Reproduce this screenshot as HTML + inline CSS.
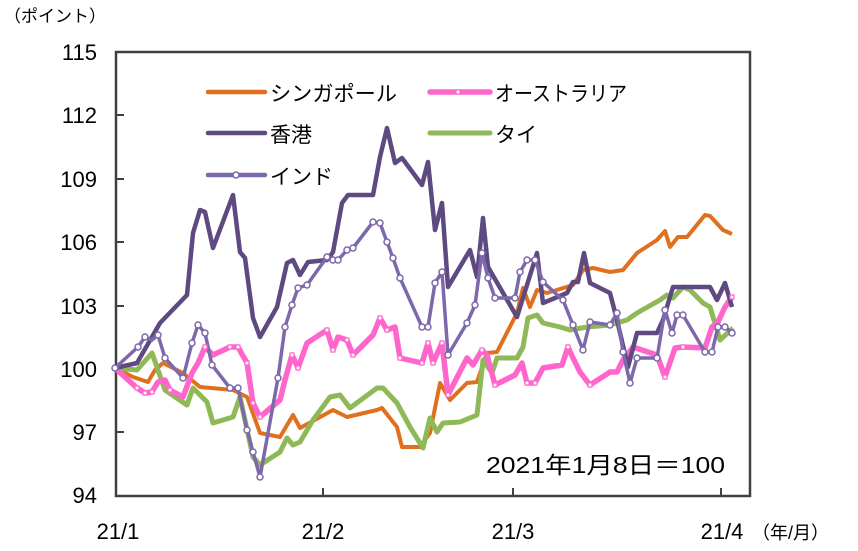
<!DOCTYPE html>
<html><head><meta charset="utf-8"><style>
body{margin:0;background:#fff;}
svg{display:block;}
text{font-family:"Liberation Sans","Noto Sans CJK JP",sans-serif;fill:#000;}
</style></head><body>
<svg width="858" height="551" viewBox="0 0 858 551">
<rect x="0" y="0" width="858" height="551" fill="#fff"/>
<text x="4" y="22" font-size="17">（ポイント）</text>
<g font-size="22" text-anchor="end">
<text x="97" y="60">115</text><text x="97" y="123">112</text><text x="97" y="187">109</text>
<text x="97" y="250">106</text><text x="97" y="314">103</text><text x="97" y="377">100</text>
<text x="97" y="440">97</text><text x="97" y="503">94</text>
</g>
<g font-size="22" text-anchor="middle">
<text x="118" y="539">21/1</text><text x="323" y="539">21/2</text><text x="513" y="539">21/3</text><text x="722" y="539">21/4</text>
</g>
<text x="752" y="539" font-size="18">（年/月）</text>
<g stroke="#404040" stroke-width="2">
<line x1="116" y1="115" x2="124" y2="115"/><line x1="116" y1="179" x2="124" y2="179"/>
<line x1="116" y1="242" x2="124" y2="242"/><line x1="116" y1="306" x2="124" y2="306"/>
<line x1="116" y1="369" x2="124" y2="369"/><line x1="116" y1="432" x2="124" y2="432"/>
<line x1="323" y1="496" x2="323" y2="488"/><line x1="513" y1="496" x2="513" y2="488"/><line x1="721" y1="496" x2="721" y2="488"/>
</g>
<rect x="116" y="52" width="634" height="444" fill="none" stroke="#404040" stroke-width="2.5"/>
<g fill="none" stroke-linejoin="round" stroke-width="4">
<polyline stroke="#e0701e" points="115,368 133,377 148,382 155,370 163,363 183,373 200,387 233,390 247,397 260,433 280,437 293,415 300,428 333,410 347,417 377,410 382,408 397,427 402,447 420,447 430,433 440,383 450,400 467,383 477,382 487,353 497,352 517,313 523,288 530,307 537,290 547,293 573,285 583,270 593,268 610,272 623,270 637,253 657,240 665,231 670,247 678,237 687,237 705,215 710,216 723,230 732,234"/>
<polyline stroke="#8fb856" stroke-width="5" points="115,368 137,370 152,353 165,390 187,405 193,388 207,402 213,423 233,417 240,397 253,457 260,465 280,452 287,438 293,445 300,442 313,420 330,397 340,395 350,408 377,388 383,388 397,403 410,427 423,448 430,418 437,432 443,423 460,422 477,415 483,360 492,373 497,358 517,358 523,347 528,318 537,315 543,323 560,327 570,330 587,327 610,325 627,320 637,313 660,300 667,295 673,298 683,287 690,290 703,303 710,307 717,330 720,340 733,328"/>
<polyline stroke="#ff66cc" stroke-width="5.5" points="115,368 137,388 145,393 152,392 158,382 165,380 170,390 183,397 192,373 198,363 205,347 213,355 230,347 238,347 247,363 253,403 260,417 280,400 285,380 292,355 298,368 307,343 327,330 333,350 338,337 347,340 353,355 373,335 380,318 387,330 395,327 400,358 422,363 428,343 433,363 442,343 448,395 467,358 473,365 482,350 487,355 495,385 515,375 522,363 527,383 535,383 543,368 562,365 568,347 573,358 580,372 590,385 610,372 617,372 623,360 633,347 657,355 665,377 675,348 683,347 705,348 712,327 718,322 725,307 732,297"/>
<polyline stroke="#5e4a80" stroke-width="4.5" points="115,368 137,363 160,323 187,295 193,233 200,210 205,212 213,248 233,195 240,252 245,258 253,318 260,337 277,307 287,263 293,260 300,275 308,262 327,260 333,252 342,203 348,195 373,195 380,157 387,128 395,163 402,158 422,185 428,162 435,230 442,203 448,287 470,250 477,277 483,218 488,267 517,317 537,253 543,303 567,293 573,282 578,282 584,253 590,283 610,293 617,320 628,367 637,333 657,333 663,320 673,287 710,287 717,300 725,283 732,307"/>
<polyline stroke="#7d68ac" stroke-width="3.5" points="115,368 138,347 145,337 152,340 158,335 165,358 183,378 192,343 198,325 205,333 212,365 230,388 238,388 247,430 253,452 260,477 278,378 285,327 292,305 298,288 307,285 327,257 333,260 338,260 347,250 353,248 373,222 380,223 387,242 393,258 400,278 422,327 428,327 435,283 442,272 448,355 467,323 475,305 482,253 488,278 495,298 515,298 520,272 527,260 535,260 543,282 563,300 573,325 583,350 590,322 610,325 617,313 623,352 630,383 637,358 657,358 665,310 672,333 677,315 683,315 705,352 712,352 718,327 725,327 732,333"/>
</g>
<g fill="#fff" stroke="#ff66cc" stroke-width="1.2">
<rect x="135" y="386" width="4" height="4"/><rect x="143" y="391" width="4" height="4"/><rect x="150" y="390" width="4" height="4"/><rect x="168" y="388" width="4" height="4"/><rect x="203" y="345" width="4" height="4"/><rect x="228" y="345" width="4" height="4"/><rect x="236" y="345" width="4" height="4"/><rect x="245" y="361" width="4" height="4"/><rect x="251" y="401" width="4" height="4"/><rect x="258" y="415" width="4" height="4"/><rect x="290" y="353" width="4" height="4"/><rect x="296" y="366" width="4" height="4"/><rect x="325" y="328" width="4" height="4"/><rect x="331" y="348" width="4" height="4"/><rect x="345" y="338" width="4" height="4"/><rect x="351" y="353" width="4" height="4"/><rect x="378" y="316" width="4" height="4"/><rect x="385" y="328" width="4" height="4"/><rect x="398" y="356" width="4" height="4"/><rect x="420" y="361" width="4" height="4"/><rect x="426" y="341" width="4" height="4"/><rect x="431" y="361" width="4" height="4"/><rect x="440" y="341" width="4" height="4"/><rect x="446" y="393" width="4" height="4"/><rect x="480" y="348" width="4" height="4"/><rect x="493" y="383" width="4" height="4"/><rect x="525" y="381" width="4" height="4"/><rect x="533" y="381" width="4" height="4"/><rect x="566" y="345" width="4" height="4"/><rect x="588" y="383" width="4" height="4"/><rect x="663" y="375" width="4" height="4"/><rect x="681" y="345" width="4" height="4"/><rect x="730" y="295" width="4" height="4"/>
</g>
<g fill="#fff" stroke="#7d68ac" stroke-width="1.5">
<circle cx="115" cy="368" r="3"/><circle cx="138" cy="347" r="3"/><circle cx="145" cy="337" r="3"/><circle cx="158" cy="335" r="3"/><circle cx="165" cy="358" r="3"/><circle cx="183" cy="378" r="3"/><circle cx="192" cy="343" r="3"/><circle cx="198" cy="325" r="3"/><circle cx="205" cy="333" r="3"/><circle cx="212" cy="365" r="3"/><circle cx="230" cy="388" r="3"/><circle cx="238" cy="388" r="3"/><circle cx="247" cy="430" r="3"/><circle cx="253" cy="452" r="3"/><circle cx="260" cy="477" r="3"/><circle cx="278" cy="378" r="3"/><circle cx="285" cy="327" r="3"/><circle cx="292" cy="305" r="3"/><circle cx="298" cy="288" r="3"/><circle cx="307" cy="285" r="3"/><circle cx="327" cy="257" r="3"/><circle cx="333" cy="260" r="3"/><circle cx="338" cy="260" r="3"/><circle cx="347" cy="250" r="3"/><circle cx="353" cy="248" r="3"/><circle cx="373" cy="222" r="3"/><circle cx="380" cy="223" r="3"/><circle cx="387" cy="242" r="3"/><circle cx="393" cy="258" r="3"/><circle cx="400" cy="278" r="3"/><circle cx="422" cy="327" r="3"/><circle cx="428" cy="327" r="3"/><circle cx="435" cy="283" r="3"/><circle cx="442" cy="272" r="3"/><circle cx="448" cy="355" r="3"/><circle cx="467" cy="323" r="3"/><circle cx="475" cy="305" r="3"/><circle cx="482" cy="253" r="3"/><circle cx="488" cy="278" r="3"/><circle cx="495" cy="298" r="3"/><circle cx="515" cy="298" r="3"/><circle cx="520" cy="272" r="3"/><circle cx="527" cy="260" r="3"/><circle cx="535" cy="260" r="3"/><circle cx="543" cy="282" r="3"/><circle cx="563" cy="300" r="3"/><circle cx="573" cy="325" r="3"/><circle cx="583" cy="350" r="3"/><circle cx="590" cy="322" r="3"/><circle cx="610" cy="325" r="3"/><circle cx="617" cy="313" r="3"/><circle cx="623" cy="352" r="3"/><circle cx="630" cy="383" r="3"/><circle cx="637" cy="358" r="3"/><circle cx="657" cy="358" r="3"/><circle cx="665" cy="310" r="3"/><circle cx="672" cy="333" r="3"/><circle cx="677" cy="315" r="3"/><circle cx="683" cy="315" r="3"/><circle cx="705" cy="352" r="3"/><circle cx="712" cy="352" r="3"/><circle cx="718" cy="327" r="3"/><circle cx="725" cy="327" r="3"/><circle cx="732" cy="333" r="3"/>
</g>
<!-- legend -->
<g stroke-width="4.5" stroke-linecap="round">
<line x1="208" y1="92" x2="265" y2="92" stroke="#e0701e"/>
<line x1="208" y1="133" x2="265" y2="133" stroke="#5e4a80"/>
<line x1="208" y1="175" x2="265" y2="175" stroke="#7d68ac"/>
<line x1="430" y1="92" x2="490" y2="92" stroke="#ff66cc" stroke-width="5.5"/>
<line x1="430" y1="133" x2="490" y2="133" stroke="#8fb856" stroke-width="5"/>
</g>
<rect x="456" y="90" width="4" height="4" fill="#fff" stroke="#ff66cc" stroke-width="1.2"/>
<circle cx="236" cy="175" r="3" fill="#fff" stroke="#7d68ac" stroke-width="1.5"/>
<g font-size="21">
<text x="270" y="101" textLength="127" lengthAdjust="spacingAndGlyphs">シンガポール</text>
<text x="270" y="142">香港</text>
<text x="270" y="184">インド</text>
<text x="495" y="101" textLength="132" lengthAdjust="spacingAndGlyphs">オーストラリア</text>
<text x="495" y="142">タイ</text>
<text x="486" y="473" font-size="23" textLength="239" lengthAdjust="spacingAndGlyphs">2021年1月8日＝100</text>
</g>
</svg>
</body></html>
